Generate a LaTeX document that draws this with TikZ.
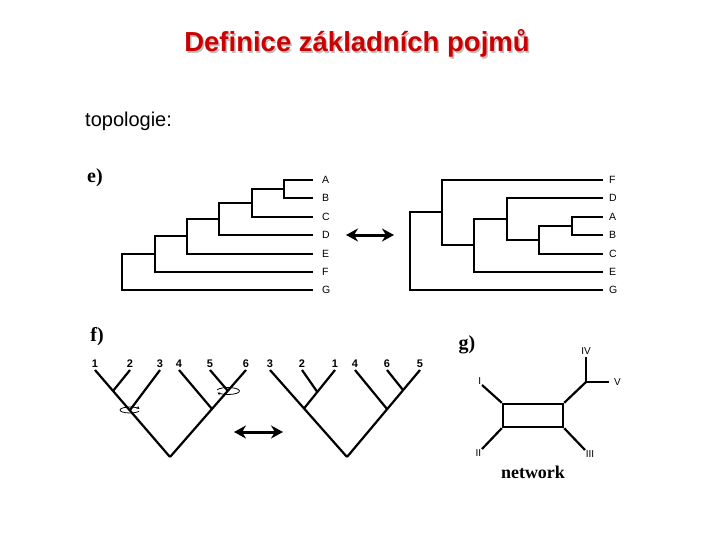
\documentclass[tikz,border=0pt]{standalone}
\usepackage{fontspec}
\setmainfont{Liberation Sans}
\newfontfamily\serifbf{Liberation Serif}
\usetikzlibrary{arrows.meta}
\definecolor{titlered}{RGB}{204,0,0}

\begin{document}
\begin{tikzpicture}[x=1pt, y=-1pt,
  branch/.style={line width=2.6pt, line join=miter},
  thinbranch/.style={line width=2.2pt},
  leaf/.style={font=\fontsize{10.5}{12}\selectfont, inner sep=0pt},
  num/.style={font=\fontsize{11}{12}\selectfont\bfseries, inner sep=0pt},
  roman/.style={font=\fontsize{10}{12}\selectfont, inner sep=0pt},
  panel/.style={font=\fontsize{20}{22}\selectfont\serifbf\bfseries, inner sep=0pt},
  swap/.style={{Stealth[length=12pt,width=13pt]}-{Stealth[length=12pt,width=13pt]}, line width=3pt},
  spin/.style={line width=0.8pt, -{Stealth[length=3pt,width=3pt]}}
]
  \useasboundingbox[fill=white] (0,0) rectangle (720,540);

  % title
  \node[text=black!25, font=\fontsize{27.5}{30}\selectfont\bfseries, anchor=base] (shadow) at (358.5,53.5) {Definice základních pojmů};
  \node[text=titlered, font=\fontsize{27.5}{30}\selectfont\bfseries, anchor=base] (title) at (357,52) {Definice základních pojmů};
  \node[font=\fontsize{20}{22}\selectfont, anchor=base west, inner sep=0pt] (topo) at (85,127) {topologie:};

  % e) two rooted trees
  \node[panel] (pe) at (95,178) {e)};
  \coordinate[label={[leaf, label distance=9pt]right:A}] (lA) at (313,180);
  \coordinate[label={[leaf, label distance=9pt]right:B}] (lB) at (313,198);
  \coordinate[label={[leaf, label distance=9pt]right:C}] (lC) at (313,217);
  \coordinate[label={[leaf, label distance=9pt]right:D}] (lD) at (313,235);
  \coordinate[label={[leaf, label distance=9pt]right:E}] (lE) at (313,254);
  \coordinate[label={[leaf, label distance=9pt]right:F}] (lF) at (313,272);
  \coordinate[label={[leaf, label distance=9pt]right:G}] (lG) at (313,290);
  \coordinate (nAB) at (284,189);
  \coordinate (nABC) at (252,203);
  \coordinate (nABCD) at (219,219);
  \coordinate (nABCDE) at (187,236);
  \coordinate (nABCDEF) at (155,254);
  \coordinate (nRoot) at (122,272);
  \draw[branch] (nAB) |- (lA);
  \draw[branch] (nAB) |- (lB);
  \draw[branch] (nABC) |- (nAB);
  \draw[branch] (nABC) |- (lC);
  \draw[branch] (nABCD) |- (nABC);
  \draw[branch] (nABCD) |- (lD);
  \draw[branch] (nABCDE) |- (nABCD);
  \draw[branch] (nABCDE) |- (lE);
  \draw[branch] (nABCDEF) |- (nABCDE);
  \draw[branch] (nABCDEF) |- (lF);
  \draw[branch] (nRoot) |- (nABCDEF);
  \draw[branch] (nRoot) |- (lG);

  \coordinate[label={[leaf, label distance=6pt]right:F}] (rF) at (603,180);
  \coordinate[label={[leaf, label distance=6pt]right:D}] (rD) at (603,198);
  \coordinate[label={[leaf, label distance=6pt]right:A}] (rA) at (603,217);
  \coordinate[label={[leaf, label distance=6pt]right:B}] (rB) at (603,235);
  \coordinate[label={[leaf, label distance=6pt]right:C}] (rC) at (603,254);
  \coordinate[label={[leaf, label distance=6pt]right:E}] (rE) at (603,272);
  \coordinate[label={[leaf, label distance=6pt]right:G}] (rG) at (603,290);
  \coordinate (mAB) at (572,226);
  \coordinate (mABC) at (539,240);
  \coordinate (mD) at (507,219);
  \coordinate (mE) at (474,245);
  \coordinate (mF) at (442,212);
  \coordinate (mRoot) at (410,251);
  \draw[branch] (mAB) |- (rA);
  \draw[branch] (mAB) |- (rB);
  \draw[branch] (mABC) |- (mAB);
  \draw[branch] (mABC) |- (rC);
  \draw[branch] (mD) |- (rD);
  \draw[branch] (mD) |- (mABC);
  \draw[branch] (mE) |- (mD);
  \draw[branch] (mE) |- (rE);
  \draw[branch] (mF) |- (rF);
  \draw[branch] (mF) |- (mE);
  \draw[branch] (mRoot) |- (mF);
  \draw[branch] (mRoot) |- (rG);

  \coordinate (ea) at (346,235);
  \coordinate (eb) at (394,235);
  \draw[swap] (ea) -- (eb);

  % f) rotation about internal nodes
  \node[panel] (pf) at (97,337) {f)};
  \coordinate[label={[num, label distance=2pt]above:1}] (a1) at (95,370);
  \coordinate[label={[num, label distance=2pt]above:2}] (a2) at (130,370);
  \coordinate[label={[num, label distance=2pt]above:3}] (a3) at (160,370);
  \coordinate[label={[num, label distance=2pt]above:4}] (a4) at (179,370);
  \coordinate[label={[num, label distance=2pt]above:5}] (a5) at (210,370);
  \coordinate[label={[num, label distance=2pt]above:6}] (a6) at (246,370);
  \coordinate (aRoot) at (170,457);
  \coordinate (a12) at (113,391);
  \coordinate (a123) at (130,410);
  \coordinate (a56) at (228,391);
  \coordinate (a456) at (212,409);
  \draw[thinbranch] (a1) -- (aRoot);
  \draw[thinbranch] (a6) -- (aRoot);
  \draw[thinbranch] (a2) -- (a12);
  \draw[thinbranch] (a3) -- (a123);
  \draw[thinbranch] (a4) -- (a456);
  \draw[thinbranch] (a5) -- (a56);
  \draw[spin] (a123) ++(25:10 and 3) arc[start angle=25, end angle=340, x radius=10, y radius=3];
  \draw[spin] (a56) ++(200:11.5 and 3.5) arc[start angle=200, end angle=515, x radius=11.5, y radius=3.5];

  \coordinate[label={[num, label distance=2pt]above:3}] (b3) at (270,370);
  \coordinate[label={[num, label distance=2pt]above:2}] (b2) at (302,370);
  \coordinate[label={[num, label distance=2pt]above:1}] (b1) at (335,370);
  \coordinate[label={[num, label distance=2pt]above:4}] (b4) at (355,370);
  \coordinate[label={[num, label distance=2pt]above:6}] (b6) at (387,370);
  \coordinate[label={[num, label distance=2pt]above:5}] (b5) at (420,370);
  \coordinate (bRoot) at (347,457);
  \coordinate (b21) at (317,391.5);
  \coordinate (b321) at (304,408.5);
  \coordinate (b65) at (403,390);
  \coordinate (b465) at (387,409);
  \draw[thinbranch] (b3) -- (bRoot);
  \draw[thinbranch] (b5) -- (bRoot);
  \draw[thinbranch] (b1) -- (b321);
  \draw[thinbranch] (b2) -- (b21);
  \draw[thinbranch] (b4) -- (b465);
  \draw[thinbranch] (b6) -- (b65);

  \coordinate (fa) at (234,432);
  \coordinate (fb) at (283,432);
  \draw[swap] (fa) -- (fb);

  % g) network
  \node[panel] (pg) at (467,345) {g)};
  \node[draw, line width=2.5pt, minimum width=60pt, minimum height=23pt, inner sep=0pt] (net) at (533,415.5) {};
  \coordinate[label={[roman, label distance=1pt]above left:I}] (gI) at (482,385);
  \coordinate[label={[roman, label distance=1pt]below left:II}] (gII) at (482,449);
  \coordinate[label={[roman, label distance=1pt]below right:III}] (gIII) at (585,450);
  \coordinate (gJ) at (586,382);
  \coordinate[label={[roman, label distance=2pt]above:IV}] (gIV) at (586,357);
  \coordinate[label={[roman, label distance=5pt]right:V}] (gV) at (609,382);
  \draw[thinbranch] (net.north west) -- (gI);
  \draw[thinbranch] (net.south west) -- (gII);
  \draw[thinbranch] (net.south east) -- (gIII);
  \draw[thinbranch] (net.north east) -- (gJ);
  \draw[thinbranch] (gJ) -- (gIV);
  \draw[thinbranch] (gJ) -- (gV);
  \node[font=\fontsize{18}{20}\selectfont\serifbf\bfseries] (netlab) at (533,472) {network};
\end{tikzpicture}
\end{document}
